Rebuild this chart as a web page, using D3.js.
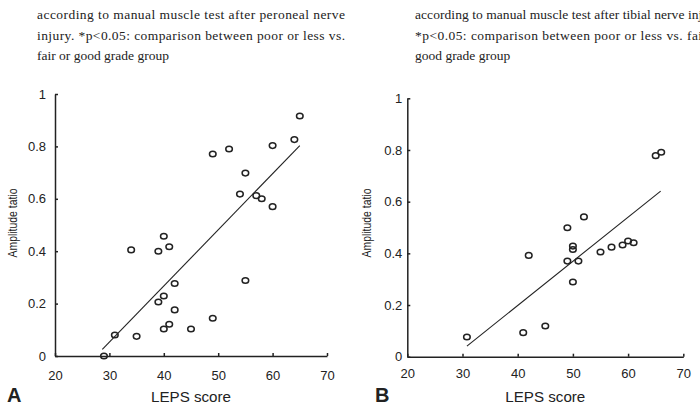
<!DOCTYPE html>
<html>
<head>
<meta charset="utf-8">
<script src="https://cdn.jsdelivr.net/npm/d3@7"></script>
<style>
  body { margin: 0; background: #fff; }
  svg { display: block; }
  .axis path, .axis line { stroke: #222; stroke-width: 1.5; }
  .axis text { font-family: "Liberation Sans", Arial, sans-serif; font-size: 13px; fill: #222; }
  .caption { font-family: "Liberation Serif", "Times New Roman", serif; font-size: 13.5px; fill: #222; }
  .title { font-family: "Liberation Sans", Arial, sans-serif; fill: #222; }
</style>
</head>
<body>
<div class="chart"></div>
<script>
// DATA ---------------------------------------------------------------

// panel A: peroneal nerve
const scoreA = [29, 31, 35, 34, 39, 40, 41, 39, 40, 42, 42, 40, 41, 45, 49, 49, 52, 55, 54, 57, 58, 60, 60, 64, 65, 55];
const ratioA = [0.0, 0.08, 0.075, 0.405, 0.40, 0.457, 0.417, 0.206, 0.229, 0.277, 0.176, 0.103, 0.121, 0.103, 0.144, 0.771, 0.79, 0.698, 0.618, 0.612, 0.60, 0.57, 0.803, 0.826, 0.916, 0.288];
const fitA = [[28.7, 0.025], [65, 0.803]];

// panel B: tibial nerve
const scoreB = [30.8, 41, 45, 42, 49, 49, 50, 50, 50, 51, 52, 55, 57, 59, 60, 61, 65, 66];
const ratioB = [0.076, 0.093, 0.119, 0.392, 0.499, 0.370, 0.428, 0.415, 0.289, 0.370, 0.541, 0.405, 0.424, 0.432, 0.448, 0.441, 0.778, 0.791];
const fitB = [[30.8, 0.041], [65.9, 0.641]];

const xTicks = [20, 30, 40, 50, 60, 70];
const yTicks = [0, 0.2, 0.4, 0.6, 0.8, 1];
const yTickLabels = ['0', '0.2', '0.4', '0.6', '0.8', '1'];

const captionLeft = [
  'according to manual muscle test after peroneal nerve',
  'injury. *p<0.05: comparison between poor or less vs.',
  'fair or good grade group'
];
const captionRight = [
  'according to manual muscle test after tibial nerve injury.',
  '*p<0.05: comparison between poor or less vs. fair or',
  'good grade group'
];

// CHART INIT ---------------------------------------------------------

const width = 700;
const height = 406;

const svg = d3.select('.chart')
    .append('svg')
    .attr('width', width)
    .attr('height', height);

// caption text above each panel (justified lines stretched to the column width)
function caption(lines, x0, justified) {
    lines.forEach((t, i) => {
        const txt = svg.append('text')
            .attr('class', 'caption')
            .attr('x', x0)
            .attr('y', 19 + i * 20.5)
            .text(t);
        if (i < justified) {
            txt.attr('textLength', 308).attr('lengthAdjust', 'spacing');
        }
    });
}
caption(captionLeft, 37, 2);
caption(captionRight, 415, 2);

// one scatter panel
function panel(p) {
    const xScale = d3.scaleLinear().domain([20, 70]).range([p.left, p.right]);
    const yScale = d3.scaleLinear().domain([0, 1]).range([p.bottom, p.top]);

    const xAxis = d3.axisBottom(xScale)
        .tickValues(xTicks)
        .tickSizeInner(-3)
        .tickSizeOuter(0)
        .tickPadding(p.xPad)
        .tickFormat(d3.format('d'));

    const yAxis = d3.axisLeft(yScale)
        .tickValues(yTicks)
        .tickSizeInner(-3)
        .tickSizeOuter(0)
        .tickPadding(p.yPad)
        .tickFormat((d, i) => yTickLabels[i]);

    svg.append('g')
        .attr('class', 'axis x-axis')
        .attr('transform', 'translate(0,' + p.bottom + ')')
        .call(xAxis);

    svg.append('g')
        .attr('class', 'axis y-axis')
        .attr('transform', 'translate(' + p.left + ',0)')
        .call(yAxis);

    // regression line
    svg.append('line')
        .attr('x1', xScale(p.fit[0][0]))
        .attr('y1', yScale(p.fit[0][1]))
        .attr('x2', xScale(p.fit[1][0]))
        .attr('y2', yScale(p.fit[1][1]))
        .attr('stroke', '#222')
        .attr('stroke-width', 1.1);

    // points
    svg.selectAll(null)
        .data(p.xs.map((d, i) => ({x: d, y: p.ys[i]})))
        .enter()
        .append('ellipse')
        .attr('cx', d => xScale(d.x))
        .attr('cy', d => yScale(d.y))
        .attr('rx', 3.3)
        .attr('ry', 2.8)
        .attr('fill', 'none')
        .attr('stroke', '#222')
        .attr('stroke-width', 1.5);

    // axis titles
    svg.append('text')
        .attr('class', 'title')
        .attr('x', (p.left + p.right) / 2)
        .attr('y', 402)
        .attr('text-anchor', 'middle')
        .attr('font-size', 14)
        .attr('textLength', 80)
        .attr('lengthAdjust', 'spacingAndGlyphs')
        .text('LEPS score');

    svg.append('text')
        .attr('class', 'title')
        .attr('transform', 'translate(' + p.titleX + ',223) rotate(-90)')
        .attr('text-anchor', 'middle')
        .attr('font-size', 13.5)
        .attr('textLength', 69)
        .attr('lengthAdjust', 'spacingAndGlyphs')
        .text('Amplitude tatio');

    // panel letter
    svg.append('text')
        .attr('class', 'title')
        .attr('x', p.letterX)
        .attr('y', 402)
        .attr('font-size', 20)
        .attr('font-weight', 'bold')
        .text(p.letter);
}

panel({left: 55, right: 327, top: 94, bottom: 356, xPad: 15, yPad: 9,
       xs: scoreA, ys: ratioA, fit: fitA, titleX: 17, letter: 'A', letterX: 7});
panel({left: 407.3, right: 683.3, top: 98.3, bottom: 356.7, xPad: 12, yPad: 5,
       xs: scoreB, ys: ratioB, fit: fitB, titleX: 371, letter: 'B', letterX: 375});
</script>
</body>
</html>
